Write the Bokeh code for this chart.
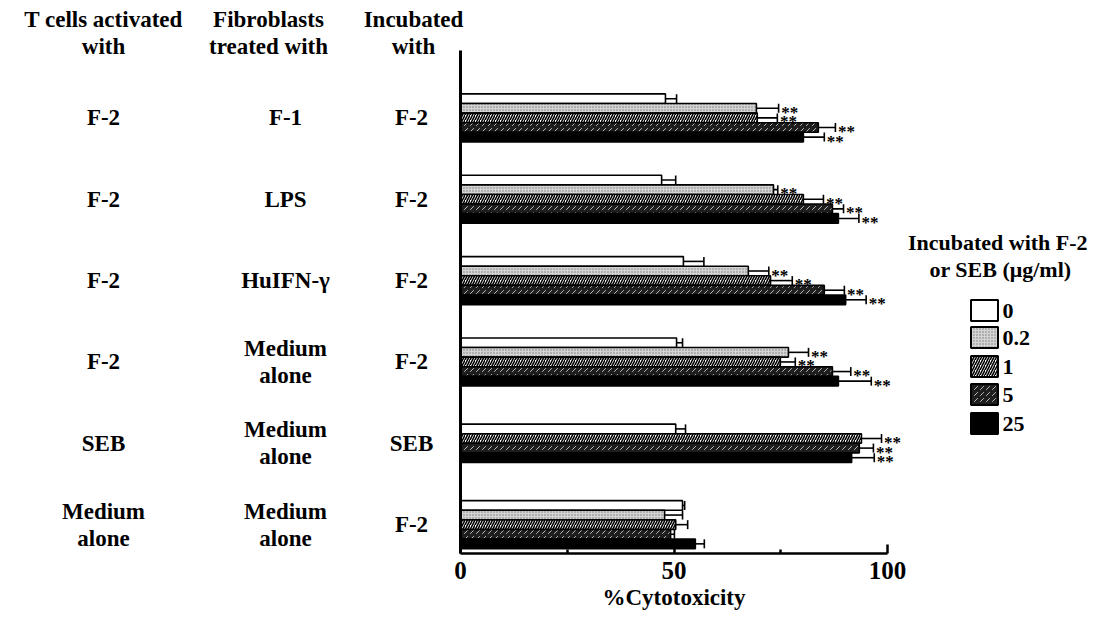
from bokeh.plotting import figure
from bokeh.models import Range1d, FixedTicker, Whisker, TeeHead, ColumnDataSource
from bokeh.core.properties import value
from bokeh.embed import file_html
from bokeh.resources import INLINE

# ---------------- data ----------------
conc_labels = ["0", "0.2", "1", "5", "25"]
t_cells = ["F-2", "F-2", "F-2", "F-2", "SEB", "Medium\nalone"]
fibroblasts = ["F-1", "LPS", "HuIFN-γ", "Medium\nalone", "Medium\nalone", "Medium\nalone"]
incubated = ["F-2", "F-2", "F-2", "F-2", "SEB", "F-2"]

# mean % cytotoxicity, rows = groups (top to bottom), cols = concentrations
cyto_0 = [48.0, 47.1, 52.2, 50.6, 50.4, 52.0]
cyto_02 = [69.3, 73.3, 67.4, 76.8, None, 47.8]
cyto_1 = [69.5, 80.3, 72.6, 74.9, 93.9, 50.4]
cyto_5 = [83.8, 87.1, 85.2, 87.1, 93.4, 49.2]
cyto_25 = [80.3, 88.5, 90.2, 88.5, 91.6, 55.0]

err_0 = [2.6, 3.3, 4.8, 1.4, 2.3, 0.5]
err_02 = [5.2, 1.0, 4.8, 4.7, None, 4.2]
err_1 = [4.7, 4.7, 5.1, 3.5, 4.7, 2.8]
err_5 = [4.0, 2.6, 4.7, 4.3, 3.3, 0.9]
err_25 = [4.9, 4.8, 4.8, 7.7, 5.3, 2.1]

# significance (**) per group for non-zero concentrations
signif = [True, True, True, True, True, False]

x_ticks = [0, 50, 100]
x_minor = [25, 75]

# ---------------- layout helpers ----------------
W, H = 1100, 612
PX0, PXS = 460.0, 4.27        # x pixel of value 0, px per % unit
GY0, GYS = 117.4, 81.35       # y pixel of group 0 centre, px per group


def X(px):
    return (px - PX0) / PXS


def G(py):
    return (py - GY0) / GYS


SLOT = 9.6 / GYS
FONT_NAME = "Liberation Serif"
FONT = value(FONT_NAME)

p = figure(width=W, height=H, output_backend="svg", toolbar_location=None,
           x_range=Range1d(X(0), X(W)), y_range=Range1d(G(H), G(0)),
           min_border=0, outline_line_color=None, title=None)
p.xgrid.visible = False
p.ygrid.visible = False

styles = [
    dict(fill_color="white"),
    dict(fill_color="#d4d4d4", hatch_pattern=".", hatch_color="#777777", hatch_scale=3, hatch_weight=1),
    dict(fill_color="white", hatch_pattern="/", hatch_color="black", hatch_scale=5, hatch_weight=1.6),
    dict(fill_color="#1e1e1e", hatch_pattern=",", hatch_color="#b8b8b8", hatch_scale=6, hatch_weight=1),
    dict(fill_color="black"),
]

series = [cyto_0, cyto_02, cyto_1, cyto_5, cyto_25]
errs = [err_0, err_02, err_1, err_5, err_25]
n_groups = len(t_cells)

# bar y positions
present = [[series[c][g] is not None for c in range(5)] for g in range(n_groups)]
ypos = {}
for g in range(n_groups):
    idx = [c for c in range(5) if present[g][c]]
    n = len(idx)
    for k, c in enumerate(idx):
        ypos[(g, c)] = g + (k - (n - 1) / 2) * SLOT

star_x, star_y = [], []
for c in range(5):
    ys, vals, his = [], [], []
    for g in range(n_groups):
        if series[c][g] is None:
            continue
        ys.append(ypos[(g, c)])
        vals.append(series[c][g])
        his.append(series[c][g] + errs[c][g])
        if c > 0 and signif[g]:
            star_x.append(series[c][g] + errs[c][g] + 0.6)
            star_y.append(ypos[(g, c)])
    src = ColumnDataSource(dict(y=ys, val=vals, hi=his))
    w = Whisker(source=src, base="y", lower="val", upper="hi", dimension="width",
                line_width=1.6, line_color="black",
                upper_head=TeeHead(size=9, line_width=1.6, line_color="black"),
                lower_head=None)
    p.add_layout(w)
    p.hbar(y="y", left=0, right="val", height=SLOT, source=src,
           line_color="black", line_width=1.6, **styles[c])

p.text(x=star_x, y=star_y, text=["**"] * len(star_x), text_font=FONT,
       text_font_style="bold", text_font_size="17px", text_baseline="middle",
       text_align="left", y_offset=4, text_color="black")

# ---------------- axes ----------------
xa = p.xaxis[0]
xa.fixed_location = G(553)
xa.bounds = (0, 100)
xa.ticker = FixedTicker(ticks=x_ticks, minor_ticks=x_minor)
xa.axis_line_width = 2.5
xa.major_tick_in = 9
xa.major_tick_out = 0
xa.major_tick_line_width = 2.5
xa.minor_tick_in = 4
xa.minor_tick_out = 0
xa.minor_tick_line_width = 2.5
xa.major_label_text_font = FONT_NAME
xa.major_label_text_font_style = "bold"
xa.major_label_text_font_size = "25px"
xa.major_label_text_color = "black"
xa.major_label_standoff = 8
xa.axis_label = "%Cytotoxicity"
xa.axis_label_text_font = FONT_NAME
xa.axis_label_text_font_style = "bold"
xa.axis_label_text_font_size = "23px"
xa.axis_label_text_color = "black"
xa.axis_label_standoff = 3

ya = p.yaxis[0]
ya.fixed_location = 0
ya.bounds = (G(50), G(553))
ya.axis_line_width = 3
ya.major_tick_line_color = None
ya.minor_tick_line_color = None
ya.major_label_text_font_size = "0px"
ya.major_label_text_color = None

# ---------------- table texts ----------------
hdr_y = G(32.5)
col_x_hdr = [X(103), X(268), X(413)]
col_x_row = [X(103), X(285), X(411)]
headers = ["T cells activated\nwith", "Fibroblasts\ntreated with", "Incubated\nwith"]
tx, ty, tt = [], [], []
for i in range(3):
    tx.append(col_x_hdr[i]); ty.append(hdr_y); tt.append(headers[i])
for g in range(n_groups):
    for i, col in enumerate([t_cells, fibroblasts, incubated]):
        tx.append(col_x_row[i]); ty.append(g); tt.append(col[g])
p.text(x=tx, y=ty, text=tt, text_font=FONT, text_font_style="bold",
       text_font_size="23px", text_align="center", text_baseline="middle",
       text_line_height=1.08, text_color="black")

# ---------------- legend ----------------
p.text(x=[X(1000)], y=[G(255)], text=["Incubated with  F-2\nor SEB (μg/ml)"],
       text_font=FONT, text_font_style="bold", text_font_size="22px",
       text_align="center", text_baseline="middle", text_line_height=1.08,
       text_color="black")
leg_rows = [310, 337, 366, 394, 423]
for c in range(5):
    p.rect(x=[X(984)], y=[G(leg_rows[c])], width=27, height=21,
           width_units="screen", height_units="screen",
           line_color="black", line_width=2, **styles[c])
p.text(x=[X(1002)] * 5, y=[G(r) for r in leg_rows], text=conc_labels,
       text_font=FONT, text_font_style="bold", text_font_size="22px",
       text_align="left", text_baseline="middle", text_color="black")

open("out.html", "w").write(file_html(p, INLINE))
